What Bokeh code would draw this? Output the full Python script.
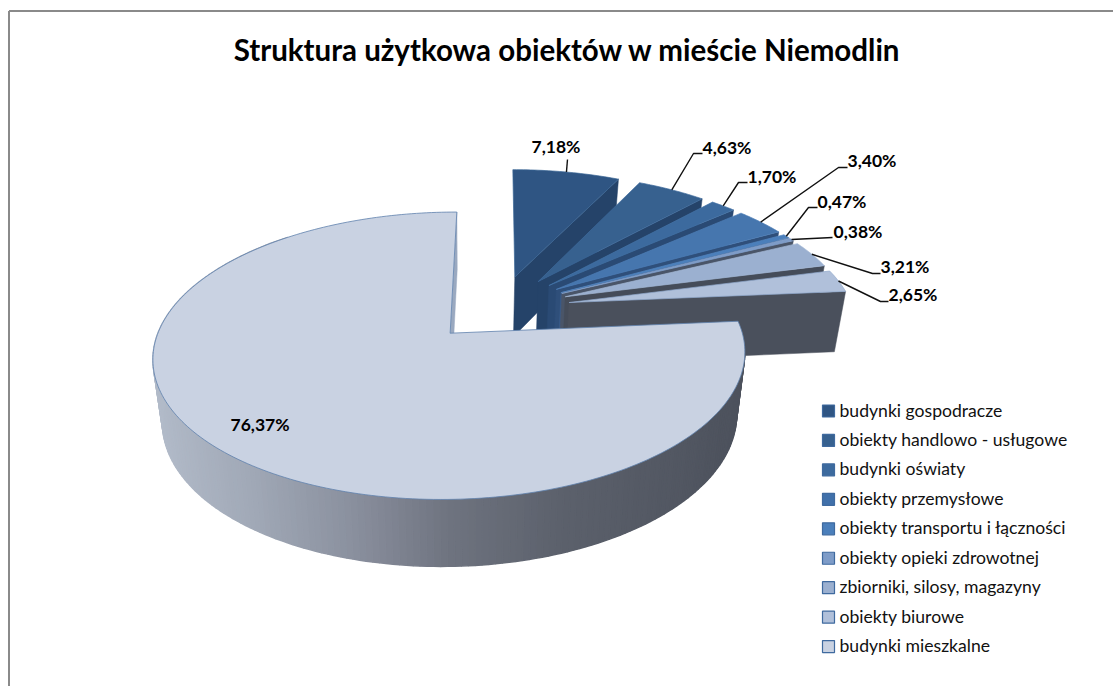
from math import sin, cos, radians
from bokeh.plotting import figure
from bokeh.embed import file_html
from bokeh.resources import INLINE
from bokeh.core.properties import value

title = "Struktura użytkowa obiektów w mieście Niemodlin"
categories = ["budynki gospodracze", "obiekty handlowo - usługowe", "budynki oświaty",
              "obiekty przemysłowe", "obiekty transportu i łączności", "obiekty opieki zdrowotnej",
              "zbiorniki, silosy, magazyny", "obiekty biurowe", "budynki mieszkalne"]
shares = [7.18, 4.63, 1.70, 3.40, 0.47, 0.38, 3.21, 2.65, 76.37]
top_colors = ["#2f5583", "#37618f", "#3c6a9e", "#4676ae", "#4b7fbb", "#7e9cc8", "#9bb0d0", "#b0c0da", "#c9d2e2"]
wall_colors = ["#254369", "#254369", "#2a4a74", "#2f4f7a", "#3a5d8c", "#4a5568", "#454c59", "#4a505c", "#9aa9c0"]
edge_colors = ["#3a6595", "#3f6c9e", "#4574a8", "#4f7fb8", "#5587c0", "#85a2cc", "#a3b7d5", "#8fa8cc", "#5f82ad"]
legend_colors = ["#2f5583", "#37618f", "#3c6a9e", "#4070aa", "#4b7fbb", "#7e9cc8", "#9bb0d0", "#b0c0da", "#c9d2e2"]

# label text position, optional leader elbow/end points (page layout)
label_anchor = [(531, 146), (702, 147), (747, 176), (847, 160), (817, 201), (833, 231), (880, 266), (888, 294), (230, 424)]
leader_mid = [[(567, 159)], [(693, 153), (702, 153)], [(738, 182), (747, 182)], [(838, 167), (847, 167)],
              [(808, 207), (817, 207)], [(832, 237)], [(872, 273), (880, 273)], [(880, 301), (888, 301)], []]

# projection of the pie plane on the page
PX, PS, PC, PA, PQ = 499, 284, 0.1525, -85.5, 307.6
EXPLODE = 0.25
DEPTH_X, DEPTH_XK = 470, 0.97


def proj(u, v):
    w = 1 + PC * v
    return PX + PS * u / w, (PA * v + PQ) / w


def drop(u, v):
    x, y = proj(u, v)
    return DEPTH_X + (x - DEPTH_X) * DEPTH_XK, y + 61 - 5 * v


def lerp_hex(stops, t):
    for (t0, c0), (t1, c1) in zip(stops, stops[1:]):
        if t <= t1:
            f = max(0, (t - t0) / (t1 - t0))
            rgb = [round(int(c0[i:i + 2], 16) * (1 - f) + int(c1[i:i + 2], 16) * f) for i in (1, 3, 5)]
            return "#%02x%02x%02x" % tuple(rgb)
    return stops[-1][1]


W, H = 1113, 686
p = figure(width=W, height=H, x_range=(0, W), y_range=(H, 0), output_backend="svg",
           toolbar_location=None, min_border=0, outline_line_color=None)
p.axis.visible = False
p.grid.visible = False
p.background_fill_color = "white"

# chart frame
p.line([8.5, 8.5], [H, 10.5], line_color="#8a8a8a", line_width=2)
p.line([8.5, W], [10.5, 10.5], line_color="#8a8a8a", line_width=2)

p.text([567], [48.5], text=[title], text_font=value("Lato"), text_font_style="bold", text_font_size="29.5px",
       text_align="center", text_baseline="middle", text_color="#000000")

total = sum(shares)
cum = 0.0
slices = []
for s in shares:
    a0, a1 = cum / total * 360, (cum + s) / total * 360
    cum += s
    mid = radians((a0 + a1) / 2)
    slices.append((a0, a1, EXPLODE * sin(mid), EXPLODE * cos(mid)))


def arc(a0, a1, n, ax, ay):
    return [(ax + sin(radians(a0 + (a1 - a0) * i / n)), ay + cos(radians(a0 + (a1 - a0) * i / n))) for i in range(n + 1)]


# exploded small slices, back to front
for i in range(8):
    a0, a1, ax, ay = slices[i]
    tip = (ax + sin(radians(a1)), ay + cos(radians(a1)))
    w = [proj(*tip), drop(*tip), drop(ax, ay), proj(ax, ay)]
    p.patch([q[0] for q in w], [q[1] for q in w], fill_color=wall_colors[i], line_color=wall_colors[i], line_width=0.5)
    pts = [(ax, ay)] + arc(a0, a1, 30, ax, ay)
    t = [proj(*q) for q in pts]
    p.patch([q[0] for q in t], [q[1] for q in t], fill_color=top_colors[i], line_color=edge_colors[i], line_width=0.7)

# large slice: end face, shaded rim, top
a0, a1, ax, ay = slices[8]
tip = (ax + sin(radians(a1)), ay + cos(radians(a1)))
w = [proj(*tip), drop(*tip), drop(ax, ay), proj(ax, ay)]
p.patch([q[0] for q in w], [q[1] for q in w], fill_color=wall_colors[8], line_color=wall_colors[8], line_width=0.5)

rim = [(150, "#b2bbc9"), (250, "#a0a8b6"), (350, "#8a909e"), (450, "#6e737f"), (560, "#5c616c"), (750, "#4c515c")]
n_rim = 200
rim_pts = arc(a0, 320, n_rim, ax, ay)
xs, ys, cs = [], [], []
for q0, q1 in zip(rim_pts, rim_pts[1:]):
    a, b, c, d = proj(*q0), proj(*q1), drop(*q1), drop(*q0)
    xs.append([a[0], b[0], c[0], d[0]])
    ys.append([a[1], b[1], c[1], d[1]])
    cs.append(lerp_hex(rim, (a[0] + b[0]) / 2))
p.patches(xs, ys, fill_color=cs, line_color=cs, line_width=1.5)

pts = [(ax, ay)] + arc(a0, a1, 240, ax, ay)
t = [proj(*q) for q in pts]
p.patch([q[0] for q in t], [q[1] for q in t], fill_color=top_colors[8], line_color=edge_colors[8], line_width=0.8)

# leaders and value labels
label_text = [f"{s:.2f}%".replace(".", ",") for s in shares]
for i in range(9):
    a0, a1, ax, ay = slices[i]
    if leader_mid[i]:
        m = radians((a0 + a1) / 2)
        x0, y0 = proj(ax + sin(m), ay + cos(m))
        lx = [x0] + [q[0] for q in leader_mid[i]]
        ly = [y0] + [q[1] for q in leader_mid[i]]
        p.line(lx, ly, line_color="#111111", line_width=1.4)
p.text([q[0] for q in label_anchor], [q[1] for q in label_anchor], text=label_text, text_font=value("Lato"),
       text_font_style="bold", text_font_size="17.5px", text_align="left", text_baseline="middle",
       text_color="#000000")

# legend
for i, name in enumerate(categories):
    y = 410.5 + i * 29.45
    p.patch([822, 834, 834, 822], [y - 6, y - 6, y + 6, y + 6], fill_color=legend_colors[i],
            line_color="#3f6a9f", line_width=1.2)
    p.text([839], [y - 1], text=[name], text_font=value("Lato"), text_font_size="17.6px", text_align="left",
           text_baseline="middle", text_color="#111111")

open("out.html", "w").write(file_html(p, INLINE))
